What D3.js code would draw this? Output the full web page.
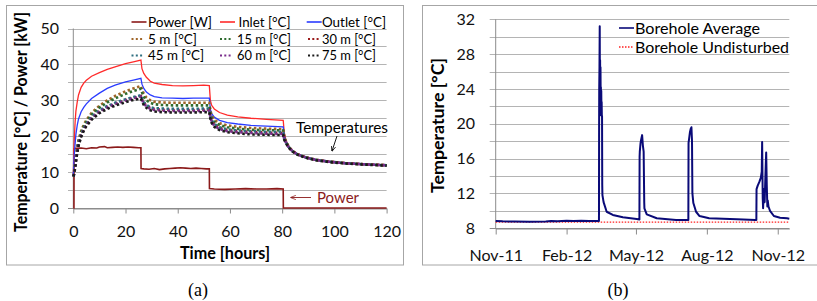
<!DOCTYPE html>
<html><head><meta charset="utf-8">
<script src="https://cdnjs.cloudflare.com/ajax/libs/d3/7.8.5/d3.min.js"></script>
<style>body{margin:0;background:#fff;} svg{display:block;font-family:Lato,"Open Sans",sans-serif;}</style>
</head><body><svg id="c" width="817" height="301"></svg>
<script>
// ---------- Panel (a) data ----------
const timeHours = [0,0.3,0.7,1,1.5,2,3,4,5,7,10,13,16,20,23,25.9,26.3,27,28,29.5,31,34,38,42,46,50,52.1,52.5,53,54,56,59,63,68,74,80.4,80.8,81.5,82.5,84,86,89,93,98,104,111,120];
const inletC  = [9,18,24,27,29.5,31.5,33.6,34.8,35.6,36.7,37.7,38.6,39.3,40.2,40.7,41.2,38.8,37.5,36.4,35.3,34.8,34.4,34.1,34.0,34.1,34.2,34.1,30.0,28.6,27.6,26.6,25.9,25.4,25.0,24.7,24.4,21.0,18.8,17.2,15.9,14.9,14.1,13.4,12.9,12.5,12.2,11.9];
const outletC = [9,14,18,20.5,23,24.8,26.8,28,29,30.5,32,33.3,34.2,35.1,35.6,36.1,34.5,33.3,32.3,31.5,31.0,30.7,30.6,30.5,30.6,30.6,30.6,27.5,26.3,25.3,24.4,23.8,23.4,23.0,22.8,22.6,20.0,18.4,17.0,15.8,14.8,14.0,13.3,12.8,12.4,12.1,11.8];
const depth5C  = [8.8,10,12.5,14.5,17,19,21.5,23.2,24.5,26.5,28.5,30.0,31.2,32.5,33.3,34.0,33.0,31.8,30.8,30.0,29.6,29.4,29.3,29.3,29.3,29.3,29.3,27.2,25.8,24.6,23.6,23.0,22.6,22.3,22.1,22.0,19.8,18.5,17.1,15.9,14.9,14.1,13.4,12.9,12.5,12.2,11.9];
const depth15C = [8.8,9.8,12,14,16.5,18.5,21,22.7,24,26,28,29.4,30.5,31.8,32.6,33.2,32.2,31.0,30.0,29.3,28.9,28.7,28.6,28.6,28.6,28.6,28.6,26.6,25.2,24.0,23.1,22.5,22.1,21.8,21.7,21.6,19.6,18.4,17.0,15.8,14.9,14.1,13.4,12.9,12.5,12.2,11.9];
const depth30C = [8.8,9.5,11.5,13.3,15.8,17.8,20.3,22,23.3,25.2,27.0,28.2,29.1,30.1,30.7,31.2,30.3,29.3,28.5,27.9,27.6,27.4,27.3,27.3,27.3,27.4,27.4,25.6,24.3,23.2,22.3,21.7,21.4,21.2,21.0,20.9,19.3,18.2,16.9,15.8,14.9,14.1,13.4,12.9,12.5,12.2,11.9];
const depth45C = [8.8,9.6,11.7,13.5,16,18,20.5,22.2,23.5,25.4,27.2,28.4,29.3,30.3,30.9,31.4,30.5,29.5,28.7,28.1,27.8,27.7,27.6,27.6,27.6,27.7,27.7,25.8,24.5,23.4,22.5,21.9,21.6,21.4,21.2,21.2,19.4,18.3,17.0,15.8,14.9,14.1,13.4,12.9,12.5,12.2,11.9];
const depth60C = [8.8,9.4,11.3,13.1,15.6,17.6,20.1,21.8,23.1,25.0,26.8,28.0,28.9,29.9,30.5,31.0,30.1,29.1,28.3,27.6,27.3,27.1,27.0,27.0,27.0,27.1,27.1,25.3,24.0,22.9,22.0,21.4,21.1,20.9,20.7,20.6,19.2,18.1,16.9,15.8,14.9,14.1,13.4,12.9,12.5,12.2,11.9];
const depth75C = [8.8,9.3,11.1,12.9,15.3,17.3,19.8,21.5,22.8,24.6,26.4,27.6,28.5,29.5,30.1,30.5,29.7,28.7,27.9,27.2,26.9,26.7,26.6,26.6,26.6,26.7,26.7,24.9,23.7,22.6,21.7,21.1,20.8,20.5,20.4,20.3,19.0,18.0,16.8,15.7,14.8,14.0,13.3,12.8,12.4,12.1,11.8];
const powerHours = [0,0.25,0.3,1,3,5,7,9,10,12,13,15,17,19,21,23,25,25.9,25.95,27,29,31,33,35,37,39,41,43,45,47,49,51,52.1,52.15,54,58,62,66,70,74,78,80.4,80.45,120];
const powerKW    = [0,0,16.5,16.6,16.7,16.5,16.8,16.7,17.0,17.1,16.8,16.9,17.0,16.9,17.0,16.9,16.8,16.8,11.0,10.9,10.8,11.0,10.7,10.9,11.0,11.1,11.2,11.1,11.0,11.1,11.0,10.9,10.9,5.4,5.3,5.2,5.3,5.4,5.3,5.3,5.4,5.3,0,0];
const xTicksA = [0,20,40,60,80,100,120];
const yTicksA = [0,10,20,30,40,50];
const yGridA  = [0,5,10,15,20,25,30,35,40,45,50];

// ---------- Panel (b) data ----------
const boreDates = ["2011-11-01 00","2011-11-10 00","2011-11-25 00","2011-12-15 00","2012-01-05 00","2012-01-12 00","2012-01-20 00","2012-02-01 00","2012-02-10 00","2012-02-20 00","2012-03-01 00","2012-03-14 00","2012-03-14 04","2012-03-14 08","2012-03-14 16","2012-03-15 00","2012-03-15 06","2012-03-15 12","2012-03-15 18","2012-03-16 00","2012-03-16 06","2012-03-16 12","2012-03-16 18","2012-03-17 00","2012-03-17 06","2012-03-17 12","2012-03-17 18","2012-03-18 00","2012-03-18 06","2012-03-18 12","2012-03-20 00","2012-03-24 00","2012-04-01 00","2012-04-14 00","2012-05-02 00","2012-05-05 12","2012-05-05 18","2012-05-06 00","2012-05-07 00","2012-05-08 00","2012-05-09 00","2012-05-10 00","2012-05-11 00","2012-05-11 18","2012-05-12 00","2012-05-15 00","2012-05-28 00","2012-06-22 00","2012-07-08 00","2012-07-08 06","2012-07-09 00","2012-07-10 00","2012-07-11 00","2012-07-12 00","2012-07-12 18","2012-07-13 06","2012-07-14 12","2012-07-18 00","2012-07-22 12","2012-08-04 00","2012-09-09 00","2012-10-03 00","2012-10-04 06","2012-10-04 12","2012-10-06 00","2012-10-08 00","2012-10-10 00","2012-10-11 06","2012-10-11 18","2012-10-12 12","2012-10-13 00","2012-10-14 00","2012-10-15 00","2012-10-16 00","2012-10-17 00","2012-10-17 18","2012-10-18 12","2012-10-19 00","2012-10-20 00","2012-10-22 00","2012-10-27 00","2012-11-04 00","2012-11-13 00","2012-11-16 00"];
const boreAvg = [8.85,8.8,8.78,8.76,8.78,8.85,8.82,8.88,8.84,8.87,8.83,8.85,18.5,24.0,26.5,31.2,22.0,27.3,21.0,26.5,22.5,24.2,21.0,23.8,21.2,22.5,20.8,20.9,13.0,11.8,11.0,9.9,9.53,9.26,9.07,9.0,16.2,16.8,17.8,18.3,18.7,17.5,16.8,11.0,10.3,9.6,9.15,8.95,8.95,17.8,18.3,19.0,19.4,19.6,18.0,12.0,10.9,9.9,9.41,9.15,9.03,8.95,8.95,12.5,12.9,13.3,13.8,14.5,17.9,11.5,10.3,12.5,11.0,14.0,16.7,13.0,10.5,11.2,10.5,10.0,9.41,9.22,9.15,9.1];
const undistDates = ["2011-11-01 00","2012-11-16 00"];
const undistTemp  = [8.7,8.7];
const xTickDatesB = ["2011-11-01 00","2012-02-01 00","2012-05-01 00","2012-08-01 00","2012-11-01 00"];
const yTicksB = [8,12,16,20,24,28,32];
const yGridB  = [8,10,12,14,16,18,20,22,24,26,28,30,32];

// ---------- drawing ----------
const svg = d3.select("#c");
const GRID = "#b4b4b4", AXIS = "#8c8c8c", FS = 16, FB = 16.5;
const defs = svg.append("defs");
function marker(id, color){
  defs.append("marker").attr("id",id).attr("viewBox","0 0 10 10").attr("refX",9).attr("refY",5)
    .attr("markerWidth",6).attr("markerHeight",6).attr("orient","auto")
    .append("path").attr("d","M0,1 L10,5 L0,9").attr("fill","none").attr("stroke",color).attr("stroke-width",1.4);
}
marker("arrBlack","#000"); marker("arrRed","#8b1a1a");
// fit a text to a measured width when it renders wider/narrower than the reference
function fit(sel, w){ sel.attr("textLength",w).attr("lengthAdjust","spacingAndGlyphs"); return sel; }

// frames
svg.append("rect").attr("x",6.5).attr("y",5.5).attr("width",397).attr("height",259.5).attr("fill","none").attr("stroke","#a6a6a6");
svg.append("rect").attr("x",422.5).attr("y",5.5).attr("width",420).attr("height",259.5).attr("fill","none").attr("stroke","#a6a6a6");

// ----- panel (a)
const xA = d3.scaleLinear().domain([0,120]).range([73.3,386.6]);
const yA = d3.scaleLinear().domain([0,50]).range([208,28.5]);
const gA = svg.append("g");
gA.selectAll("line.grid").data(yGridA).join("line")
  .attr("x1",68).attr("x2",xA(120)).attr("y1",d=>Math.round(yA(d))+0.5).attr("y2",d=>Math.round(yA(d))+0.5)
  .attr("stroke",d=>d===0?AXIS:GRID);
gA.append("line").attr("x1",xA(0)).attr("x2",xA(0)).attr("y1",yA(50)).attr("y2",yA(0)).attr("stroke",AXIS);
const axA = gA.append("g").attr("transform",`translate(0,${Math.round(yA(0))+0.5})`)
  .call(d3.axisBottom(xA).tickValues(xTicksA).tickSize(5).tickSizeOuter(0));
axA.select(".domain").attr("stroke",AXIS);
axA.selectAll(".tick line").attr("stroke",AXIS);
axA.selectAll("text").attr("y",23).attr("dy","0.35em").attr("font-size",FS).attr("font-family","Lato").attr("fill","#111");
gA.selectAll("text.yl").data(yTicksA).join("text").attr("x",59).attr("y",d=>yA(d)).attr("dy","0.35em")
  .attr("text-anchor","end").attr("font-size",FS).attr("fill","#111").text(d=>d);
fit(gA.append("text").attr("transform","translate(21.5,122) rotate(-90)").attr("text-anchor","middle").attr("dy","0.35em")
  .attr("font-size",FB).attr("font-weight","bold").text("Temperature [°C] / Power [kW]"), 220);
fit(gA.append("text").attr("x",225).attr("y",253).attr("dy","0.35em").attr("text-anchor","middle")
  .attr("font-size",FB).attr("font-weight","bold").text("Time [hours]"), 90);

const lineA = d3.line().x(d=>xA(d[0])).y(d=>yA(d[1]));
const seriesA = [
  {name:"Power [W]", t:powerHours, v:powerKW, color:"#8b1a1a", dash:null, w:1.6},
  {name:"Inlet [°C]", t:timeHours, v:inletC, color:"#ff2a2a", dash:null, w:1.3},
  {name:"Outlet [°C]", t:timeHours, v:outletC, color:"#2a3cff", dash:null, w:1.3},
  {name:"5 m [°C]", t:timeHours, v:depth5C, color:"#a0662a", dash:"2.5 2.5", w:2.6},
  {name:"15 m [°C]", t:timeHours, v:depth15C, color:"#2e6b2e", dash:"2.5 2.5", w:2.6},
  {name:"30 m [°C]", t:timeHours, v:depth30C, color:"#9b1c1c", dash:"2.5 2.5", w:2.6},
  {name:"45 m [°C]", t:timeHours, v:depth45C, color:"#2e6f80", dash:"2.5 2.5", w:2.6},
  {name:"60 m [°C]", t:timeHours, v:depth60C, color:"#7a2d8c", dash:"2.5 2.5", w:2.6},
  {name:"75 m [°C]", t:timeHours, v:depth75C, color:"#1a1a1a", dash:"2.5 2.5", w:2.6}
];
seriesA.forEach(s=>{
  gA.append("path").attr("d",lineA(s.t.map((t,i)=>[t,s.v[i]]))).attr("fill","none")
    .attr("stroke",s.color).attr("stroke-width",s.w).attr("stroke-dasharray",s.dash);
});
// legend (a)
const legY = [22,39,55.5];
const legSample = [[131.5,146.5],[220,235],[306.7,321.7],[131.5,144],[220,232.5],[308,320.5],[131.5,144],[220,232.5],[308,320.5]];
const legText = [[148,64],[238.5,52],[322,64],[148,49],[237,54],[322,54],[148,56],[237,54],[322,54]];
seriesA.forEach((s,i)=>{
  const r=Math.floor(i/3);
  gA.append("line").attr("x1",legSample[i][0]).attr("x2",legSample[i][1]).attr("y1",legY[r]).attr("y2",legY[r])
    .attr("stroke",s.color).attr("stroke-width",s.dash?2.2:1.6).attr("stroke-dasharray",s.dash?"2 2.3":null);
  fit(gA.append("text").attr("x",legText[i][0]).attr("y",legY[r]).attr("dy","0.35em").attr("font-size",13.5).text(s.name), legText[i][1]);
});
// annotations
fit(gA.append("text").attr("x",296).attr("y",127).attr("dy","0.35em").attr("font-size",FS).text("Temperatures"), 92);
gA.append("line").attr("x1",337).attr("y1",136).attr("x2",332).attr("y2",151).attr("stroke","#000").attr("stroke-width",0.9).attr("marker-end","url(#arrBlack)");
fit(gA.append("text").attr("x",317).attr("y",197).attr("dy","0.35em").attr("font-size",FS).attr("fill","#8b1a1a").text("Power"), 42);
gA.append("line").attr("x1",311).attr("y1",197.5).attr("x2",291).attr("y2",197.5).attr("stroke","#8b1a1a").attr("stroke-width",0.9).attr("marker-end","url(#arrRed)");

// ----- panel (b)
const parse = d3.timeParse("%Y-%m-%d %H");
const xB = d3.scaleTime().domain([parse("2011-11-01 00"),parse("2012-11-16 00")]).range([495.7,789.3]);
const yB = d3.scaleLinear().domain([8,32]).range([228.3,19.3]);
const gB = svg.append("g");
gB.selectAll("line.grid").data(yGridB).join("line")
  .attr("x1",489.7).attr("x2",789.3).attr("y1",d=>Math.round(yB(d))+0.5).attr("y2",d=>Math.round(yB(d))+0.5)
  .attr("stroke",d=>d===8?AXIS:GRID);
gB.append("line").attr("x1",xB.range()[0]).attr("x2",xB.range()[0]).attr("y1",yB(32)).attr("y2",yB(8)).attr("stroke",AXIS);
const axB = gB.append("g").attr("transform",`translate(0,${Math.round(yB(8))+0.5})`)
  .call(d3.axisBottom(xB).tickValues(xTickDatesB.map(parse)).tickFormat(d3.timeFormat("%b-%y")).tickSize(6).tickSizeOuter(0));
axB.select(".domain").attr("stroke",AXIS);
axB.selectAll(".tick line").attr("stroke",AXIS);
axB.selectAll("text").attr("y",27).attr("dy","0.35em").attr("font-size",FS).attr("font-family","Lato").attr("fill","#111");
gB.selectAll("text.yl").data(yTicksB).join("text").attr("x",475).attr("y",d=>yB(d)).attr("dy","0.35em")
  .attr("text-anchor","end").attr("font-size",FS).attr("fill","#111").text(d=>d);
fit(gB.append("text").attr("transform","translate(438,125.5) rotate(-90)").attr("text-anchor","middle").attr("dy","0.35em")
  .attr("font-size",FB).attr("font-weight","bold").text("Temperature [°C]"), 135);
const lineB = d3.line().x(d=>xB(d[0])).y(d=>yB(d[1]));
gB.append("path").attr("d",lineB(undistDates.map((d,i)=>[parse(d),undistTemp[i]]))).attr("fill","none")
  .attr("stroke","#ff2020").attr("stroke-width",1.3).attr("stroke-dasharray","1.5 1.5");
gB.append("path").attr("d",lineB(boreDates.map((d,i)=>[parse(d),boreAvg[i]]))).attr("fill","none")
  .attr("stroke","#0a0a78").attr("stroke-width",2).attr("stroke-linejoin","round");
// legend (b)
gB.append("line").attr("x1",619).attr("x2",634).attr("y1",28).attr("y2",28).attr("stroke","#0a0a78").attr("stroke-width",1.6);
fit(gB.append("text").attr("x",635).attr("y",28).attr("dy","0.35em").attr("font-size",FS).text("Borehole Average"), 125);
gB.append("line").attr("x1",619).attr("x2",634).attr("y1",47).attr("y2",47).attr("stroke","#ff2020").attr("stroke-width",1.3).attr("stroke-dasharray","1.5 1.5");
fit(gB.append("text").attr("x",635).attr("y",47).attr("dy","0.35em").attr("font-size",FS).text("Borehole Undisturbed"), 154);

// captions
svg.append("text").attr("x",198).attr("y",290).attr("dy","0.35em").attr("text-anchor","middle")
  .attr("font-family","Liberation Serif").attr("font-size",18).text("(a)");
svg.append("text").attr("x",618).attr("y",290).attr("dy","0.35em").attr("text-anchor","middle")
  .attr("font-family","Liberation Serif").attr("font-size",18).text("(b)");
</script></body></html>
